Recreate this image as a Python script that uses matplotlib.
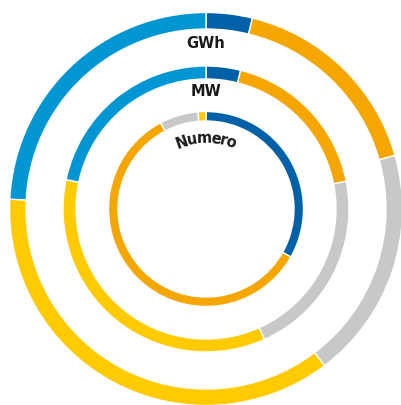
import numpy as np
import matplotlib.pyplot as plt
from matplotlib.font_manager import FontProperties

# quote per fonte (%), in senso orario dalle ore 12
colori = ['#0061a8', '#f5a600', '#c8c8c8', '#ffcb00', '#0096d4']
gwh = [3.8, 16.8, 19.1, 36.1, 24.2]
mw = [3.9, 18.0, 21.4, 35.0, 21.7]
numero = [33.2, 59.1, 6.4, 1.3, 0.0]
etichette = ['GWh', 'MW', 'Numero']

fig = plt.figure(figsize=(4.02, 4.06), dpi=100)
ax = fig.add_axes([0, 0, 1, 1])

cx, cy = 206, 196
anelli = [(gwh, 196.5, 16.5), (mw, 143, 13), (numero, 97.5, 9.5)]
for valori, r, w in anelli:
    v = [x for x in valori if x > 0]
    c = [col for x, col in zip(valori, colori) if x > 0]
    ax.pie(v, colors=c, radius=r, center=(cx, cy), startangle=90,
           counterclock=False, frame=True,
           wedgeprops=dict(width=w, edgecolor='white', linewidth=1))
ax.set_xlim(0, 402)
ax.set_ylim(0, 406)
ax.set_aspect('equal')
ax.axis('off')

fp = FontProperties(family='DejaVu Sans', weight='bold', size=10.5)
ax.text(cx, 363, etichette[0], ha='center', va='center', fontproperties=fp, color='#1a1a1a')
ax.text(cx, 314, etichette[1], ha='center', va='center', fontproperties=fp, color='#1a1a1a')

# "Numero" curvato lungo l'anello interno
renderer = fig.canvas.get_renderer()
larg = [0.86 * renderer.get_text_width_height_descent(ch, fp, ismath=False)[0]
        for ch in etichette[2]]
tot = sum(larg)
r_txt = 67
pos = -tot / 2
for ch, l in zip(etichette[2], larg):
    th = (pos + l / 2) / r_txt
    x = cx + r_txt * np.sin(th)
    y = cy + r_txt * np.cos(th)
    ax.text(x, y, ch, ha='center', va='baseline', rotation=-np.degrees(th),
            rotation_mode='anchor', fontproperties=fp, color='#1a1a1a')
    pos += l

fig.savefig('out.png', dpi=100)
